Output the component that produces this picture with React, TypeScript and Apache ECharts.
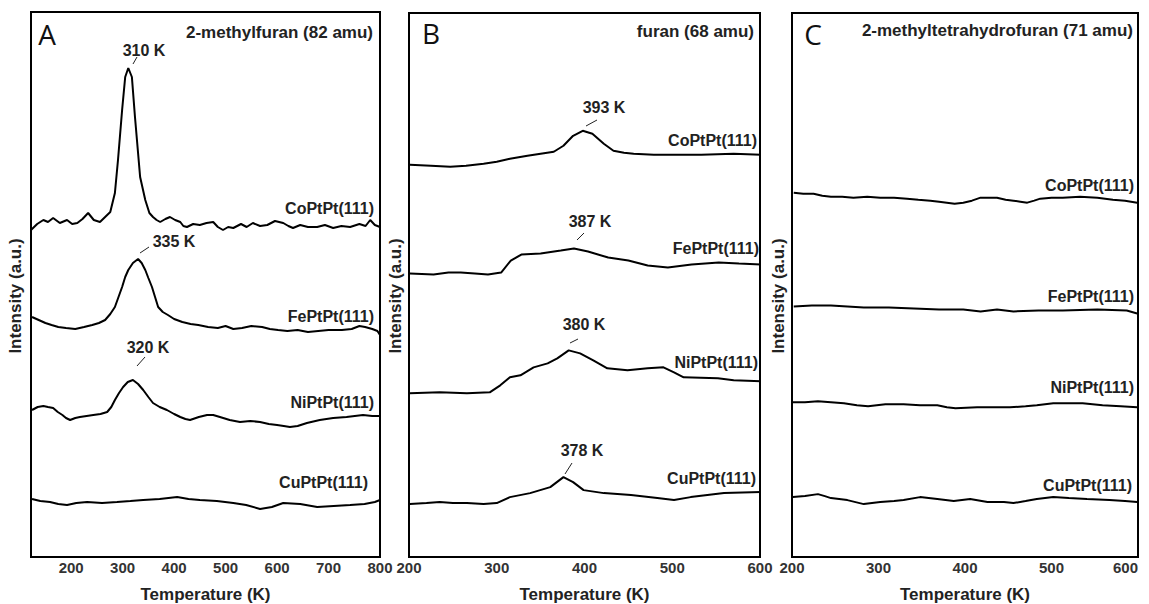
import React, { useEffect, useRef } from "react";
import * as echarts from "echarts";

// ---------- Data (Temperature K, intensity a.u.) ----------
// Panel A: 2-methylfuran (82 amu)
const aCo: [number, number][] = [
  [122, 327], [134, 333], [146, 337], [155, 335], [165, 339], [178, 334], [192, 337], [202, 333], [212, 334],
  [222, 338], [233, 344], [244, 337], [256, 335], [266, 340], [276, 345], [285, 364], [291, 397], [299, 447],
  [305, 480], [311, 489], [318, 480], [324, 440], [334, 380], [344, 357], [352, 344], [359, 340], [366, 337],
  [373, 335], [383, 338], [392, 340], [402, 337], [412, 335], [418, 331], [425, 330], [437, 333], [450, 332],
  [463, 334], [476, 335], [485, 330], [495, 327], [505, 330], [515, 329], [530, 333], [541, 330], [553, 334],
  [567, 331], [581, 332], [596, 336], [612, 334], [622, 331], [631, 329], [645, 332], [660, 330], [678, 330],
  [693, 332], [709, 329], [725, 331], [742, 330], [760, 333], [772, 331], [781, 337], [790, 332], [800, 330],
];
const aFe: [number, number][] = [
  [124, 240], [137, 237], [150, 234], [162, 232], [175, 230], [190, 229], [208, 228], [225, 230], [241, 232],
  [254, 234], [266, 237], [276, 243], [285, 250], [292, 260], [299, 270], [305, 280], [311, 287], [320, 294],
  [330, 298], [337, 294], [344, 287], [350, 279], [357, 270], [363, 260], [369, 250], [378, 245], [388, 242],
  [400, 238], [416, 235], [432, 233], [447, 232], [466, 230], [485, 229], [500, 231], [515, 228], [532, 229],
  [550, 231], [571, 230], [586, 228], [602, 227], [620, 226], [640, 227], [660, 225], [680, 226], [700, 227],
  [726, 227], [745, 228], [760, 231], [771, 230], [785, 228], [795, 226], [800, 222],
];
const aNi: [number, number][] = [
  [124, 147], [135, 150], [146, 151], [155, 150], [165, 149], [174, 145], [183, 142], [190, 139], [198, 137],
  [208, 139], [217, 140], [230, 141], [243, 142], [257, 143], [270, 145], [278, 150], [285, 157], [293, 164],
  [301, 170], [310, 175], [320, 177], [330, 173], [340, 167], [350, 160], [359, 154], [372, 150], [386, 147],
  [400, 143], [412, 140], [422, 138], [431, 137], [448, 140], [464, 142], [476, 142], [489, 140], [508, 137],
  [528, 135], [548, 136], [567, 135], [584, 133], [600, 132], [613, 131], [625, 130], [640, 131], [658, 134],
  [683, 137], [709, 139], [735, 140], [767, 142], [785, 141], [800, 141],
];
const aCu: [number, number][] = [
  [124, 58], [140, 56], [159, 55], [175, 53], [192, 52], [210, 54], [231, 55], [260, 54], [289, 55], [315, 56],
  [340, 57], [372, 58], [406, 60], [428, 58], [450, 57], [483, 56], [515, 54], [540, 52], [567, 48], [590, 50],
  [612, 54], [645, 53], [678, 50], [710, 51], [742, 52], [770, 53], [790, 55], [800, 57],
];

// Panel B: furan (68 amu)
const bCo: [number, number][] = [
  [201, 393], [225, 392], [247, 391], [265, 392], [285, 394], [300, 396], [315, 399], [335, 402], [350, 404],
  [365, 406], [376, 412], [387, 422], [398, 427], [409, 424], [422, 414], [433, 407], [445, 405], [456, 404],
  [479, 403], [505, 403], [533, 403], [570, 404], [601, 403],
];
const bFe: [number, number][] = [
  [201, 284], [228, 283], [245, 285], [259, 285], [275, 284], [290, 283], [305, 285], [316, 297], [328, 303],
  [350, 304], [373, 307], [388, 309], [404, 306], [427, 300], [450, 297], [472, 292], [495, 290], [522, 293],
  [553, 295], [576, 294], [601, 293],
];
const bNi: [number, number][] = [
  [201, 164], [235, 165], [266, 164], [292, 165], [304, 172], [315, 180], [327, 182], [342, 190], [358, 194],
  [369, 199], [382, 207], [395, 204], [410, 197], [426, 189], [449, 187], [472, 189], [490, 190], [502, 185],
  [513, 180], [552, 179], [570, 177], [601, 176],
];
const bCu: [number, number][] = [
  [201, 53], [220, 54], [235, 55], [250, 54], [266, 54], [285, 53], [300, 54], [315, 60], [338, 64], [361, 70],
  [376, 80], [387, 75], [399, 67], [422, 64], [453, 62], [483, 59], [502, 57], [521, 60], [559, 64], [601, 65],
];

// Panel C: 2-methyltetrahydrofuran (71 amu)
const cCo: [number, number][] = [
  [202, 365], [213, 364], [225, 364], [235, 362], [245, 361], [258, 361], [271, 360], [287, 361], [302, 360],
  [318, 360], [333, 359], [346, 358], [360, 357], [370, 356], [379, 355], [388, 354], [398, 355], [408, 357],
  [418, 360], [428, 360], [437, 360], [447, 358], [456, 357], [464, 356], [472, 355], [480, 357], [487, 359],
  [500, 360], [513, 360], [533, 361], [553, 360], [571, 358], [585, 357], [599, 355],
];
const cFe: [number, number][] = [
  [202, 251], [223, 252], [245, 252], [264, 251], [283, 250], [312, 250], [341, 249], [370, 248], [398, 248],
  [418, 246], [437, 248], [456, 246], [485, 247], [513, 247], [553, 248], [587, 247], [599, 244],
];
const cNi: [number, number][] = [
  [201, 155], [215, 155], [230, 156], [245, 155], [260, 154], [275, 152], [288, 151], [308, 153], [329, 153],
  [348, 152], [368, 152], [379, 150], [389, 149], [414, 150], [452, 150], [470, 151], [483, 152], [502, 154],
  [520, 154], [536, 154], [559, 152], [580, 151], [599, 150],
];
const cCu: [number, number][] = [
  [201, 60], [215, 61], [230, 63], [238, 61], [245, 59], [264, 57], [283, 53], [302, 55], [318, 56], [329, 57],
  [348, 60], [368, 58], [387, 56], [406, 58], [426, 55], [445, 55], [456, 54], [470, 56], [483, 58], [502, 60],
  [520, 59], [541, 58], [567, 57], [585, 56], [599, 55],
];

// Axes / text
const panelRanges: [number, number][] = [[122, 800], [200, 600], [200, 600]];
const panelTicks: number[][] = [
  [200, 300, 400, 500, 600, 700, 800],
  [200, 300, 400, 500, 600],
  [200, 300, 400, 500, 600],
];
const panelLetters = ["A", "B", "C"];
const panelTitles = ["2-methylfuran (82 amu)", "furan (68 amu)", "2-methyltetrahydrofuran (71 amu)"];
const sampleNames = ["CoPtPt(111)", "FePtPt(111)", "NiPtPt(111)", "CuPtPt(111)"];
const peakLabels = [
  ["310 K", "335 K", "320 K"],
  ["393 K", "387 K", "380 K", "378 K"],
  [],
];
const xTitle = "Temperature (K)";
const yTitle = "Intensity (a.u.)";
const Y_MAX = 545;

const panelSeries = [
  [aCo, aFe, aNi, aCu],
  [bCo, bFe, bNi, bCu],
  [cCo, cFe, cNi, cCu],
];

export default function App() {
  const ref = useRef<HTMLDivElement>(null);
  useEffect(() => {
    document.body.style.margin = "0";
    if (!ref.current) return;
    const chart = echarts.init(ref.current, undefined, { renderer: "svg" });
    const FONT = "'Liberation Sans', Arial, sans-serif";
    const TXT = "#222";

    const grids = [
      { left: 31, top: 12, width: 349, height: 545 },
      { left: 409, top: 13, width: 351, height: 544 },
      { left: 792, top: 13, width: 346, height: 544 },
    ].map((g) => ({
      ...g,
      show: true,
      borderColor: "#000",
      borderWidth: 2,
      backgroundColor: "transparent",
      containLabel: false,
      outerBoundsMode: "none",
    }));

    const xAxes = panelRanges.map((r, i) => ({
      type: "value",
      gridIndex: i,
      min: r[0],
      max: r[1],
      axisLine: { show: false },
      axisTick: { show: false },
      splitLine: { show: false },
      axisLabel: {
        customValues: panelTicks[i],
        color: "#333",
        fontSize: 15,
        fontWeight: "bold",
        fontFamily: FONT,
        margin: 3,
        showMinLabel: true,
        showMaxLabel: true,
        ...(i === 2 ? { alignMaxLabel: "right" } : {}),
      },
      name: xTitle,
      nameLocation: "middle",
      nameGap: 29,
      nameTextStyle: { color: "#222", fontSize: 17, fontWeight: "bold", fontFamily: FONT },
    }));

    const yAxes = [0, 1, 2].map((i) => ({
      type: "value",
      gridIndex: i,
      min: 0,
      max: Y_MAX,
      show: false,
    }));

    const series: any[] = [];
    panelSeries.forEach((list, p) => {
      list.forEach((d, k) => {
        series.push({
          type: "line",
          name: `${panelLetters[p]}-${sampleNames[k]}`,
          xAxisIndex: p,
          yAxisIndex: p,
          data: d,
          showSymbol: false,
          symbol: "none",
          lineStyle: { color: "#000", width: 2 },
          z: 3,
        });
      });
    });

    const t = (text: string, x: number, y: number, opts: any = {}, rotation = 0) => ({
      type: "text",
      x,
      y,
      rotation,
      z: 10,
      style: {
        text,
        fill: TXT,
        font: `bold 16px ${FONT}`,
        align: "right",
        verticalAlign: "middle",
        ...opts,
      },
    });
    const leader = (x1: number, y1: number, x2: number, y2: number) => ({
      type: "line",
      z: 10,
      shape: { x1, y1, x2, y2 },
      style: { stroke: "#222", lineWidth: 1 },
    });
    const letterFont = `28px 'Open Sans', sans-serif`;
    const titleFont = `bold 17px ${FONT}`;

    const graphic: any[] = [
      // panel letters
      t(panelLetters[0], 47, 34, { font: letterFont, align: "center", fill: "#111" }),
      t(panelLetters[1], 431, 33, { font: letterFont, align: "center", fill: "#111" }),
      t(panelLetters[2], 813, 34, { font: letterFont, align: "center", fill: "#111" }),
      // y titles
      t(yTitle, 15, 296, { font: titleFont, align: "center" }, Math.PI / 2),
      t(yTitle, 395, 296, { font: titleFont, align: "center" }, Math.PI / 2),
      t(yTitle, 778, 296, { font: titleFont, align: "center" }, Math.PI / 2),
      // panel titles
      t(panelTitles[0], 373, 32, { font: titleFont }),
      t(panelTitles[1], 754, 31, { font: titleFont }),
      t(panelTitles[2], 1133, 30, { font: titleFont }),
      // sample names A
      t(sampleNames[0], 374, 208),
      t(sampleNames[1], 374, 316),
      t(sampleNames[2], 374, 402),
      t(sampleNames[3], 368, 482),
      // sample names B
      t(sampleNames[0], 757, 140),
      t(sampleNames[1], 759, 248),
      t(sampleNames[2], 758, 362),
      t(sampleNames[3], 756, 478),
      // sample names C
      t(sampleNames[0], 1134, 185),
      t(sampleNames[1], 1134, 296),
      t(sampleNames[2], 1134, 387),
      t(sampleNames[3], 1132, 485),
      // peak labels A
      t(peakLabels[0][0], 144, 50, { align: "center" }),
      leader(133, 64, 137, 57),
      t(peakLabels[0][1], 174, 241, { align: "center" }),
      leader(140, 253, 149, 247),
      t(peakLabels[0][2], 148, 347, { align: "center" }),
      leader(137, 366, 145, 357),
      // peak labels B
      t(peakLabels[1][0], 604, 107, { align: "center" }),
      leader(586, 126, 597, 120),
      t(peakLabels[1][1], 590, 221, { align: "center" }),
      leader(577, 240, 584, 233),
      t(peakLabels[1][2], 584, 324, { align: "center" }),
      leader(570, 343, 578, 339),
      t(peakLabels[1][3], 582, 450, { align: "center" }),
      leader(565, 474, 572, 463),
    ];

    chart.setOption({
      animation: false,
      backgroundColor: "#fff",
      grid: grids,
      xAxis: xAxes,
      yAxis: yAxes,
      series,
      graphic,
    });
    return () => chart.dispose();
  }, []);
  return <div ref={ref} style={{ width: 1149, height: 604 }} />;
}
